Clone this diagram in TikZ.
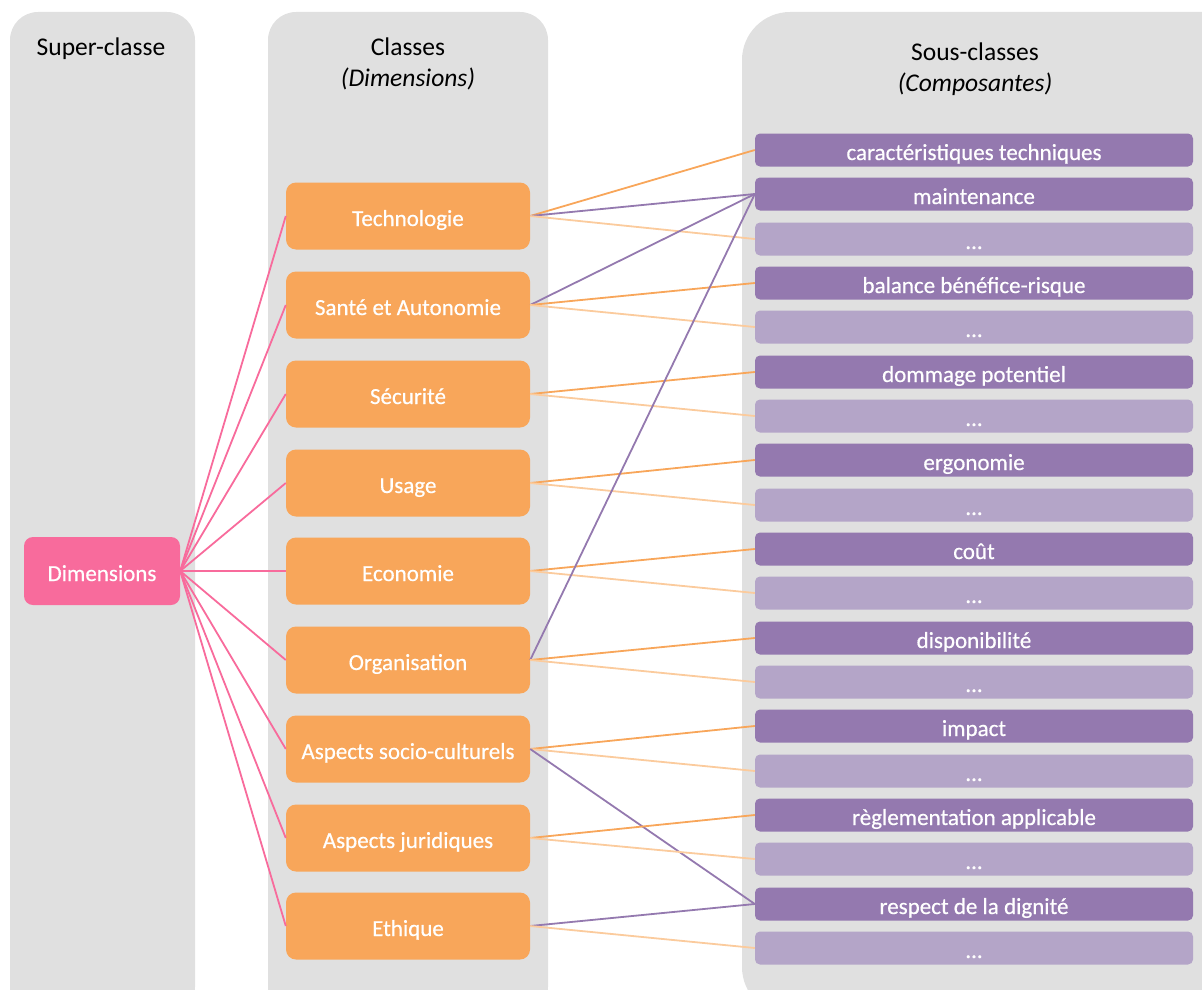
\documentclass[tikz,border=0pt]{standalone}
\usepackage{fontspec}
\setmainfont{Carlito}
\newfontfamily\boxfont[FakeBold=0.5]{Carlito}
\definecolor{panelc}{HTML}{E0E0E0}
\definecolor{pinkc}{HTML}{F86B9C}
\definecolor{orangec}{HTML}{F8A65A}
\definecolor{lorange}{HTML}{FBCB9D}
\definecolor{purplec}{HTML}{9479AF}
\definecolor{lpurple}{HTML}{B4A5C8}
\tikzset{
  panel/.style={fill=panelc},
  hdr/.style={font=\fontsize{25.5}{30.5}\selectfont, align=center, text=black, inner sep=0pt},
  boxtext/.style={text=white, inner sep=0pt, text height=22pt, text depth=2pt, font=\boxfont\fontsize{23}{26}\selectfont},
  superbox/.style={rectangle, rounded corners=9pt, fill=pinkc, minimum width=156pt, minimum height=68pt, boxtext},
  classbox/.style={rectangle, rounded corners=10pt, fill=orangec, minimum width=244pt, minimum height=67pt, boxtext},
  subbox/.style={rectangle, rounded corners=5pt, fill=purplec, minimum width=438pt, minimum height=33pt, boxtext},
  etcbox/.style={subbox, fill=lpurple},
  pinkline/.style={draw=pinkc, line width=1.8pt},
  oline/.style={draw=orangec, line width=1.8pt},
  loline/.style={draw=lorange, line width=1.8pt},
  pline/.style={draw=purplec, line width=1.8pt},
}
\begin{document}
\begin{tikzpicture}[x=1pt,y=-1pt]
\useasboundingbox (0,0) rectangle (1202,990);
\clip (0,0) rectangle (1202,990);
% panels
\fill[panel, rounded corners=28pt] (10,12) rectangle (195,1015);
\fill[panel, rounded corners=28pt] (268,12) rectangle (548,1015);
\fill[panel, rounded corners=48pt] (742,12) rectangle (1250,1015);
% headers
\node[hdr] (h1) at (101,49) {Super-classe};
\node[hdr] (h2) at (408,64) {Classes\\\itshape(Dimensions)};
\node[hdr] (h3) at (975,69) {Sous-classes\\\itshape(Composantes)};
% super class
\node[superbox] (dim) at (102,571) {Dimensions};
% classes
\node[classbox] (k1) at (408,216) {Technologie};
\node[classbox] (k2) at (408,305) {Santé et Autonomie};
\node[classbox] (k3) at (408,394) {Sécurité};
\node[classbox] (k4) at (408,483) {Usage};
\node[classbox] (k5) at (408,571) {Economie};
\node[classbox] (k6) at (408,660) {Organisation};
\node[classbox] (k7) at (408,749) {Aspects socio-culturels};
\node[classbox] (k8) at (408,838) {Aspects juridiques};
\node[classbox] (k9) at (408,926) {Ethique};
% sub classes
\node[subbox] (c1) at (974,150) {caractéristiques techniques};
\node[subbox] (c2) at (974,194) {maintenance};
\node[etcbox] (c3) at (974,239) {...};
\node[subbox] (c4) at (974,283) {balance bénéfice-risque};
\node[etcbox] (c5) at (974,327) {...};
\node[subbox] (c6) at (974,372) {dommage potentiel};
\node[etcbox] (c7) at (974,416) {...};
\node[subbox] (c8) at (974,460) {ergonomie};
\node[etcbox] (c9) at (974,505) {...};
\node[subbox] (c10) at (974,549) {coût};
\node[etcbox] (c11) at (974,593) {...};
\node[subbox] (c12) at (974,638) {disponibilité};
\node[etcbox] (c13) at (974,682) {...};
\node[subbox] (c14) at (974,726) {impact};
\node[etcbox] (c15) at (974,771) {...};
\node[subbox] (c16) at (974,815) {règlementation applicable};
\node[etcbox] (c17) at (974,859) {...};
\node[subbox] (c18) at (974,904) {respect de la dignité};
\node[etcbox] (c19) at (974,948) {...};
% pink connectors
\foreach \k in {1,...,9} {\draw[pinkline] (dim.east) -- (k\k.west);}
% class to subclass connectors
\draw[oline] (k1.east) -- (c1.west);
\draw[pline] (k1.east) -- (c2.west);
\draw[loline] (k1.east) -- (c3.west);
\draw[pline] (k2.east) -- (c2.west);
\draw[oline] (k2.east) -- (c4.west);
\draw[loline] (k2.east) -- (c5.west);
\draw[oline] (k3.east) -- (c6.west);
\draw[loline] (k3.east) -- (c7.west);
\draw[oline] (k4.east) -- (c8.west);
\draw[loline] (k4.east) -- (c9.west);
\draw[oline] (k5.east) -- (c10.west);
\draw[loline] (k5.east) -- (c11.west);
\draw[pline] (k6.east) -- (c2.west);
\draw[oline] (k6.east) -- (c12.west);
\draw[loline] (k6.east) -- (c13.west);
\draw[oline] (k7.east) -- (c14.west);
\draw[loline] (k7.east) -- (c15.west);
\draw[pline] (k7.east) -- (c18.west);
\draw[oline] (k8.east) -- (c16.west);
\draw[loline] (k8.east) -- (c17.west);
\draw[pline] (k9.east) -- (c18.west);
\draw[loline] (k9.east) -- (c19.west);
\end{tikzpicture}
\end{document}
